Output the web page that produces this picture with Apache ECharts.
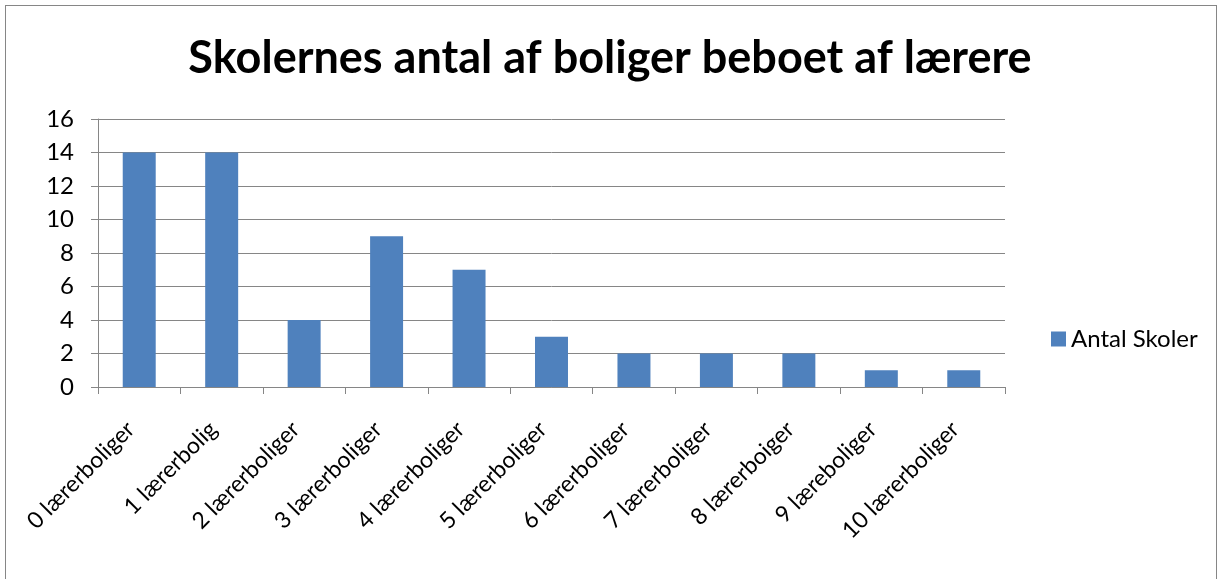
<!DOCTYPE html>
<html>
<head>
<meta charset="utf-8">
<title>Skolernes antal af boliger beboet af lærere</title>
<script src="https://cdn.jsdelivr.net/npm/echarts@6/dist/echarts.min.js"></script>
<style>
  html, body { margin: 0; padding: 0; background: #fff; }
  #frame { position: absolute; left: 5px; top: 5px; width: 1212px; height: 580px; border: 1px solid #868686; box-sizing: border-box; }
  #chart { position: absolute; left: 0; top: 0; width: 1220px; height: 579px; }
</style>
</head>
<body>
<div id="frame"></div>
<div id="chart"></div>
<script>
// kategorier og værdier
var categories = ['0 lærerboliger', '1 lærerbolig', '2 lærerboliger', '3 lærerboliger',
	'4 lærerboliger', '5 lærerboliger', '6 lærerboliger', '7 lærerboliger',
	'8 lærerboiger', '9 læreboliger', '10 lærerboliger'];
var antalSkoler = [14, 14, 4, 9, 7, 3, 2, 2, 2, 1, 1];
var seriesName = 'Antal Skoler';
var titleText = 'Skolernes antal af boliger beboet af lærere';

var font = 'Lato, "Open Sans", sans-serif';
var chart = echarts.init(document.getElementById('chart'));
var option = {
	backgroundColor: 'transparent',
	animation: false,
	title: {
		text: titleText,
		left: 'center',
		top: 31,
		textStyle: { fontFamily: font, fontSize: 45, fontWeight: 'bold', color: '#000' }
	},
	legend: {
		data: [seriesName],
		left: 1046,
		top: 322,
		itemWidth: 15,
		itemHeight: 15,
		itemGap: 6,
		icon: 'rect',
		textStyle: { fontFamily: font, fontSize: 24, color: '#000' }
	},
	grid: {
		left: 98,
		right: 215,
		top: 119,
		bottom: 192,
		outerBoundsMode: 'none'
	},
	xAxis: {
		type: 'category',
		data: categories,
		axisLine: { lineStyle: { color: '#868686', width: 1 } },
		axisTick: { show: true, length: 7, lineStyle: { color: '#868686' } },
		axisLabel: {
			interval: 0,
			rotate: 45,
			margin: 30,
			padding: [0, 12, 0, 0],
			fontFamily: font,
			fontSize: 23,
			color: '#000'
		}
	},
	yAxis: {
		type: 'value',
		min: 0,
		max: 16,
		interval: 2,
		axisLine: { show: true, lineStyle: { color: '#868686', width: 1 } },
		axisTick: { show: true, length: 7, lineStyle: { color: '#868686' } },
		splitLine: { lineStyle: { color: '#868686', width: 1 } },
		axisLabel: { margin: 24, fontFamily: font, fontSize: 24, color: '#000' }
	},
	series: [{
		name: seriesName,
		type: 'bar',
		data: antalSkoler,
		barWidth: '40%',
		itemStyle: { color: '#4F81BD' }
	}]
};
chart.setOption(option, true);
</script>
</body>
</html>
